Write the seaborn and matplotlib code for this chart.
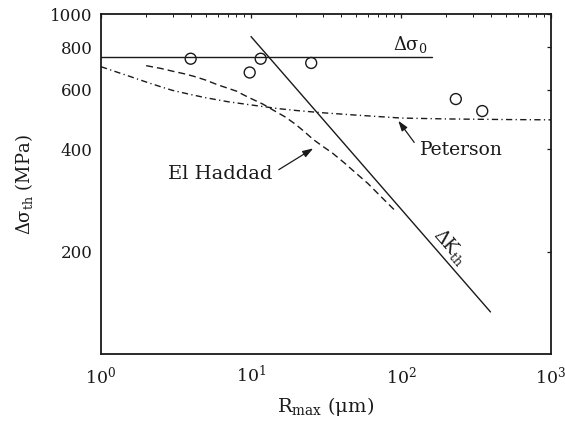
import numpy as np
import pandas as pd
import matplotlib
matplotlib.use("Agg")
import matplotlib.pyplot as plt
from matplotlib.ticker import FixedLocator, FixedFormatter, NullLocator
import seaborn as sns

# Threshold stress data (MPa) versus maximum defect size (um)
meas_r = [3.96, 9.8, 11.6, 25.2, 232, 348]
meas_s = [740, 674, 740, 719, 563, 519]

# Plain fatigue limit
sigma0_r = [1, 160]
sigma0_s = [750, 750]

# Long-crack threshold line
dk_r = [10, 395]
dk_s = [860, 133]

# El Haddad curve
haddad_r = [2, 2.5, 3, 3.6, 4.2, 5, 6, 7, 8, 9, 10, 12, 14, 17, 20, 23, 26,
            30, 35, 42, 50, 60, 70, 80, 90]
haddad_s = [706, 693, 680, 668, 656, 640, 620, 606, 594, 578, 565, 544, 523,
            498, 473, 449, 428, 409, 390, 365, 341, 318, 297, 280, 266]

# Peterson curve
peterson_r = [1, 1.25, 1.5, 2, 2.5, 3, 4, 5, 7, 10, 15, 20, 30, 50, 100, 200,
              500, 1000]
peterson_s = [701, 678, 660, 632, 612, 597, 580, 568, 553, 541, 528, 521, 513,
              505, 495, 492, 490, 489]

y_ticks = [200, 400, 600, 800, 1000]
y_ticklabels = ["200", "400", "600", "800", "1000"]

sns.set_style("white")
plt.rcParams["font.family"] = ["DejaVu Serif"]
plt.rcParams["mathtext.fontset"] = "dejavuserif"

ink = "#1a1a1a"
fig = plt.figure(figsize=(5.65, 4.33), dpi=100)
ax = fig.add_axes([101 / 565, 1 - 354 / 433, 450 / 565, (354 - 14.3) / 433])

lw = 1.0
sns.lineplot(x=sigma0_r, y=sigma0_s, ax=ax, color=ink, lw=lw)
sns.lineplot(x=dk_r, y=dk_s, ax=ax, color=ink, lw=lw)
sns.lineplot(x=haddad_r, y=haddad_s, ax=ax, color=ink, lw=lw,
             linestyle=(0, (5.0, 2.9)))
sns.lineplot(x=peterson_r, y=peterson_s, ax=ax, color=ink, lw=lw,
             linestyle=(0, (4.5, 2.4, 0.9, 2.4)))
sns.scatterplot(x=meas_r, y=meas_s, ax=ax, marker="o", s=62,
                facecolor="none", edgecolor=ink, linewidth=1.0, zorder=5)

ax.set_xscale("log")
ax.set_yscale("log")
ax.set_xlim(1, 1000)
ax.set_ylim(100, 1000)

ax.yaxis.set_major_locator(FixedLocator(y_ticks))
ax.yaxis.set_major_formatter(FixedFormatter(y_ticklabels))
ax.yaxis.set_minor_locator(NullLocator())

for side in ["left", "right", "top", "bottom"]:
    ax.spines[side].set_visible(True)
    ax.spines[side].set_linewidth(1.3)
    ax.spines[side].set_color(ink)

ax.tick_params(which="both", direction="in", top=True, right=True,
               colors=ink, labelcolor=ink)
ax.tick_params(which="major", length=3.2, width=0.9, pad=6, labelsize=12)
ax.tick_params(axis="x", which="major", pad=8, labelsize=12.5)
ax.tick_params(which="minor", length=1.9, width=0.7)

ax.set_xlabel(r"R$_{\mathrm{max}}$ (μm)", fontsize=14, color=ink, labelpad=6)
ax.set_ylabel(r"Δσ$_{\mathrm{th}}$ (MPa)", fontsize=13, color=ink, labelpad=11)

ax.text(88.4, 785, r"Δσ$_0$", fontsize=13, color=ink, ha="left", va="baseline")
ax.text(214, 207, r"ΔK$_{\mathrm{th}}$", fontsize=13, color=ink,
        ha="center", va="center", rotation=-49, rotation_mode="anchor")

arrow = dict(arrowstyle="-|>,head_length=0.45,head_width=0.15", color=ink,
             lw=0.9, shrinkA=3, shrinkB=0)
ax.annotate("El Haddad", xy=(26.0, 403), xytext=(13.8, 339), fontsize=14,
            color=ink, ha="right", va="center",
            arrowprops=dict(arrow, relpos=(1, 0.5)))
ax.annotate("Peterson", xy=(95.9, 486), xytext=(133.8, 398), fontsize=13.5,
            color=ink, ha="left", va="center",
            arrowprops=dict(arrow, relpos=(0, 0.5)))

fig.savefig("out.png", dpi=100)
